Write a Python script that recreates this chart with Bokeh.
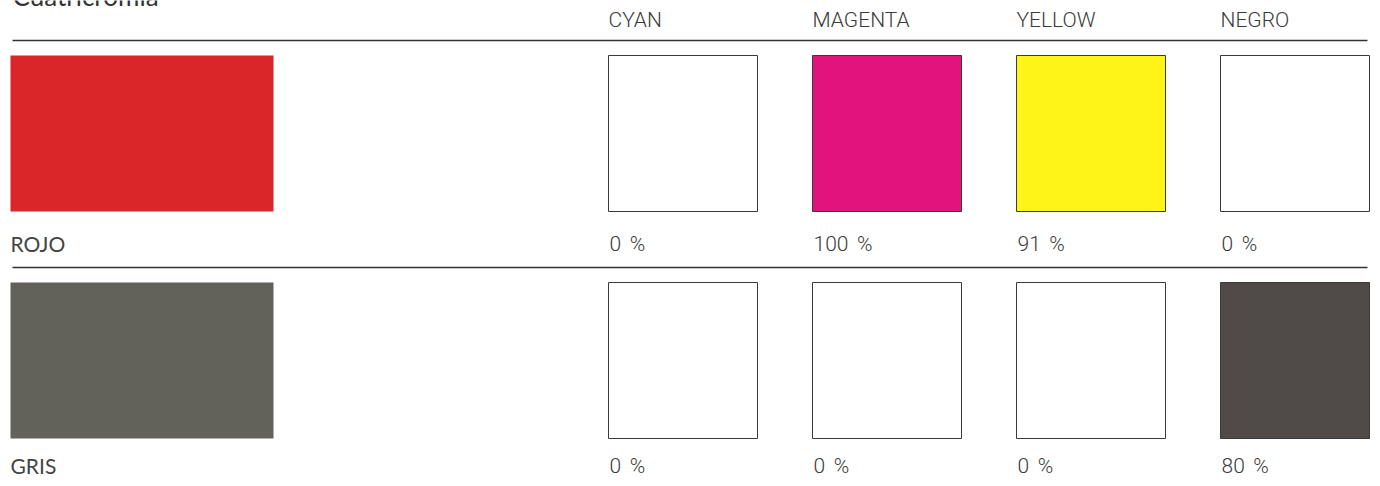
from bokeh.plotting import figure
from bokeh.models import Range1d, ColumnDataSource
from bokeh.core.properties import value
from bokeh.embed import file_html
from bokeh.resources import INLINE

# ---- data ----
title = "Cuatricromía"
rows = ["ROJO", "GRIS"]
row_colors = ["#DA2529", "#62625A"]
channels = ["CYAN", "MAGENTA", "YELLOW", "NEGRO"]
cyan = [0, 0]
magenta = [100, 0]
yellow = [91, 0]
negro = [0, 80]
ink_colors = ["#00AEEF", "#E1137C", "#FFF300", "#241E1A"]

# ---- layout (pixels) ----
W, H = 1372, 478
col_x0, col_step, sw_w = 608, 204, 149
row_y0, row_step, sw_h = 55, 227, 156
big_x0, big_x1 = 10, 273
line_x0, line_x1 = 12, 1367
header_base = 19
label_offs = [188, 183]
line_off = -15

p = figure(width=W, height=H, output_backend="svg", toolbar_location=None,
           x_range=Range1d(0, W), y_range=Range1d(H, 0), min_border=0)
p.axis.visible = False
p.grid.visible = False
p.outline_line_color = None
p.background_fill_color = "white"
p.border_fill_color = "white"

light = value("'Roboto Light', 'Liberation Sans', sans-serif")
lato = value("Lato")

# title (cut at top, as in the reference)
p.text(x=[12], y=[-5], text=[title], text_font=lato, text_font_size="26px",
       text_color="#333333", text_baseline="alphabetic")

# header labels
p.text(x=[col_x0 + i * col_step for i in range(len(channels))],
       y=[header_base] * len(channels), text=channels, text_font=light,
       text_font_size="21px", text_color="#3a3a3a", text_baseline="alphabetic")

# separator lines
seps_y = [row_y0 + line_off + r * row_step for r in range(len(rows))]
p.segment(x0=[line_x0] * len(rows), x1=[line_x1] * len(rows), y0=seps_y, y1=seps_y,
          line_color="#333333", line_width=1.3)

# big color swatches
tops = [row_y0 + r * row_step for r in range(len(rows))]
p.quad(left=[big_x0] * len(rows), right=[big_x1] * len(rows), top=tops,
       bottom=[t + sw_h for t in tops], fill_color=row_colors, line_color=None)

# row names
p.text(x=[big_x0] * len(rows), y=[t + o for t, o in zip(tops, label_offs)], text=rows,
       text_font=lato, text_font_size="21px", text_color="#444444",
       text_baseline="alphabetic")

# CMYK swatches
values = [cyan, magenta, yellow, negro]
L, R, T, B, FC, FA, TX, TY, LBL = [], [], [], [], [], [], [], [], []
for r in range(len(rows)):
    for c in range(len(channels)):
        v = values[c][r]
        x0 = col_x0 + c * col_step
        y0 = row_y0 + r * row_step
        L.append(x0); R.append(x0 + sw_w); T.append(y0); B.append(y0 + sw_h)
        FC.append(ink_colors[c]); FA.append(v / 100.0)
        TX.append(x0 + 1); TY.append(y0 + label_offs[r]); LBL.append(f"{v}\u2009\u2009%")

src = ColumnDataSource(dict(left=L, right=R, top=T, bottom=B, fc=FC, fa=FA))
p.quad(left="left", right="right", top="top", bottom="bottom", source=src,
       fill_color="white", line_color=None)
p.quad(left="left", right="right", top="top", bottom="bottom", source=src,
       fill_color="fc", fill_alpha="fa", line_color="#3a3a3a", line_width=1)

p.text(x=TX, y=TY, text=LBL, text_font=light, text_font_size="21px",
       text_color="#3a3a3a", text_baseline="alphabetic")

open("out.html", "w").write(file_html(p, INLINE))
